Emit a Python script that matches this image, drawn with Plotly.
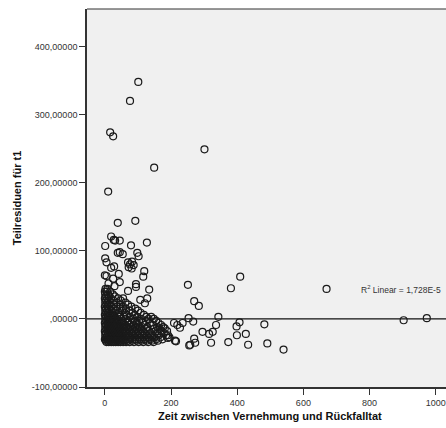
import plotly.graph_objects as go

# ---- sparse points ----
out_x = [101, 76, 16, 25, 301, 149, 10, 39, 92, 19, 27, 31, 45, 1, 79, 127, 39, 45, 54, 98, 102,
         1, 5, 70, 82, 76, 87, 72, 81, 19, 28, 0, 5, 42, 119, 116, 25, 45, 11, 29, 94, 94, 134, 70,
         251, 409, 381, 270, 284, 107, 128, 121, 343, 253, 267, 209, 219, 227, 235, 336, 295, 315,
         326, 407, 398, 426, 399, 482, 373, 321, 270, 273, 255, 215, 433, 491, 540, 670, 903, 973,
         181, 191, 190, 212, 258]
out_y = [348, 320, 274, 268, 249, 222, 187, 141, 144, 121, 116, 115, 115, 107, 108, 112, 97, 98, 95, 97, 92,
         89, 83, 83, 84, 80, 79, 76, 74, 75, 77, 64, 63, 66, 70, 62, 59, 54, 52, 48, 51, 47, 43, 41,
         50, 62, 45, 26, 19, 28, 30, 23, 3, 1, -4, -6, -9, -13, -6, -9, -19, -22,
         -19, -5, -11, -22, -24, -8, -34, -35, -29, -35, -39, -33, -38, -36, -45, 44, -2, 1,
         -14, -24, -28, -32, -38]

# ---- dense cluster, row by row (row level, x positions) ----
row_y = [44, 40, 36, 33, 30, 27, 24, 21, 18, 15, 12, 9, 6, 3, 0, -3, -6, -9, -12, -15,
         -18, -21, -24, -27, -30, -32, -34]
row_x = [
    [2, 8],
    [0, 6, 16],
    [1, 10, 24],
    [4, 13, 30],
    [0, 7, 18, 40, 55],
    [3, 11, 26, 48],
    [1, 8, 17, 35, 62],
    [5, 14, 28, 45, 70],
    [0, 9, 20, 38, 55, 80],
    [3, 12, 26, 47, 64, 92],
    [1, 7, 17, 33, 52, 75, 100],
    [4, 10, 22, 40, 60, 84, 108],
    [0, 8, 15, 28, 45, 66, 90, 118],
    [3, 11, 19, 30, 44, 58, 76, 98, 125, 140],
    [1, 7, 15, 23, 34, 48, 63, 86, 110, 132, 148],
    [4, 12, 19, 27, 38, 52, 70, 91, 104, 124, 155],
    [0, 8, 16, 24, 31, 42, 56, 68, 81, 96, 114, 136, 162],
    [3, 11, 20, 28, 35, 46, 60, 73, 86, 101, 120, 146, 170],
    [1, 7, 14, 22, 30, 37, 45, 54, 65, 78, 92, 106, 128, 158, 176],
    [4, 10, 18, 26, 33, 40, 49, 58, 70, 83, 97, 111, 126, 147, 165],
    [0, 8, 15, 22, 29, 36, 44, 53, 62, 75, 88, 102, 116, 132, 153, 171, 188],
    [3, 11, 18, 25, 32, 39, 47, 56, 66, 80, 93, 107, 121, 138, 159, 178],
    [1, 7, 14, 21, 28, 35, 42, 50, 59, 70, 84, 98, 112, 127, 144, 163, 185],
    [4, 10, 17, 24, 31, 38, 45, 53, 62, 74, 88, 103, 117, 132, 150, 168, 195],
    [0, 6, 13, 20, 27, 34, 41, 48, 56, 65, 78, 92, 106, 121, 137, 155, 174],
    [3, 9, 16, 23, 30, 37, 44, 51, 60, 70, 83, 97, 111, 126, 142, 160],
    [5, 12, 19, 26, 33, 40, 47, 55, 64, 75, 88, 102, 116, 131, 147],
]

# ---- linear fit (R² = 1,728E-5, practically flat) ----
fit_intercept = 0.0
fit_slope = 0.0
fit_label = "R<sup>2</sup> Linear = 1,728E-5"

x_tickvals = [0, 200, 400, 600, 800, 1000]
x_ticktext = ["0", "200", "400", "600", "800", "1000"]
y_tickvals = [-100, 0, 100, 200, 300, 400]
y_ticktext = ["-100,00000", ",00000", "100,00000", "200,00000", "300,00000", "400,00000"]

x_title = "Zeit zwischen Vernehmung und Rückfalltat"
y_title = "Teilresiduen für t1"

x_range = [-54, 1031]
y_range = [-100, 455]

# build full point set
all_x = list(out_x)
all_y = list(out_y)
for yy, xs in zip(row_y, row_x):
    for xx in xs:
        all_x.append(xx)
        all_y.append(yy)

FONT = "Liberation Sans, Arial, sans-serif"

fig = go.Figure()
fig.add_trace(go.Scatter(
    x=x_range, y=[fit_intercept + fit_slope * v for v in x_range],
    mode="lines", line=dict(color="#111111", width=1.3), hoverinfo="skip", showlegend=False))
fig.add_trace(go.Scatter(
    x=all_x, y=all_y, mode="markers",
    marker=dict(symbol="circle-open", size=7, color="#1a1a1a", line=dict(width=1.2, color="#1a1a1a")),
    showlegend=False))

fig.update_layout(
    width=446, height=428,
    margin=dict(l=87, r=0, t=9, b=41),
    paper_bgcolor="white", plot_bgcolor="#F0F0F0",
    font=dict(family=FONT, size=9, color="#333333"),
    xaxis=dict(range=x_range, tickvals=x_tickvals, ticktext=x_ticktext,
               showgrid=False, zeroline=False, showline=True, linecolor="#333333", linewidth=1.6,
               ticks="outside", ticklen=6, tickcolor="#333333", tickwidth=1,
               tickfont=dict(size=9, color="#333333")),
    yaxis=dict(range=y_range, tickvals=y_tickvals, ticktext=y_ticktext,
               showgrid=False, zeroline=False, showline=True, linecolor="#333333", linewidth=1.6,
               ticks="outside", ticklen=6, tickcolor="#333333", tickwidth=1,
               tickfont=dict(size=9, color="#333333"),
               title=dict(text="<b>" + y_title + "</b>", font=dict(size=11, color="#111111"), standoff=8)),
    shapes=[dict(type="line", xref="paper", yref="paper", x0=0, x1=1, y0=1, y1=1,
                 line=dict(color="#333333", width=1.2))],
    annotations=[
        dict(text="<b>" + x_title + "</b>", xref="paper", yref="paper", x=0.51, y=-0.078,
             xanchor="center", yanchor="middle", showarrow=False,
             font=dict(size=11, color="#111111", family=FONT)),
        dict(text=fit_label, x=768, y=43, xanchor="left", yanchor="middle", showarrow=False,
             font=dict(size=8.5, color="#333333", family=FONT)),
    ],
)

fig.write_html("out.html", config={"displayModeBar": False},
               post_script="document.body.style.margin='0';document.body.style.overflow='hidden';")
